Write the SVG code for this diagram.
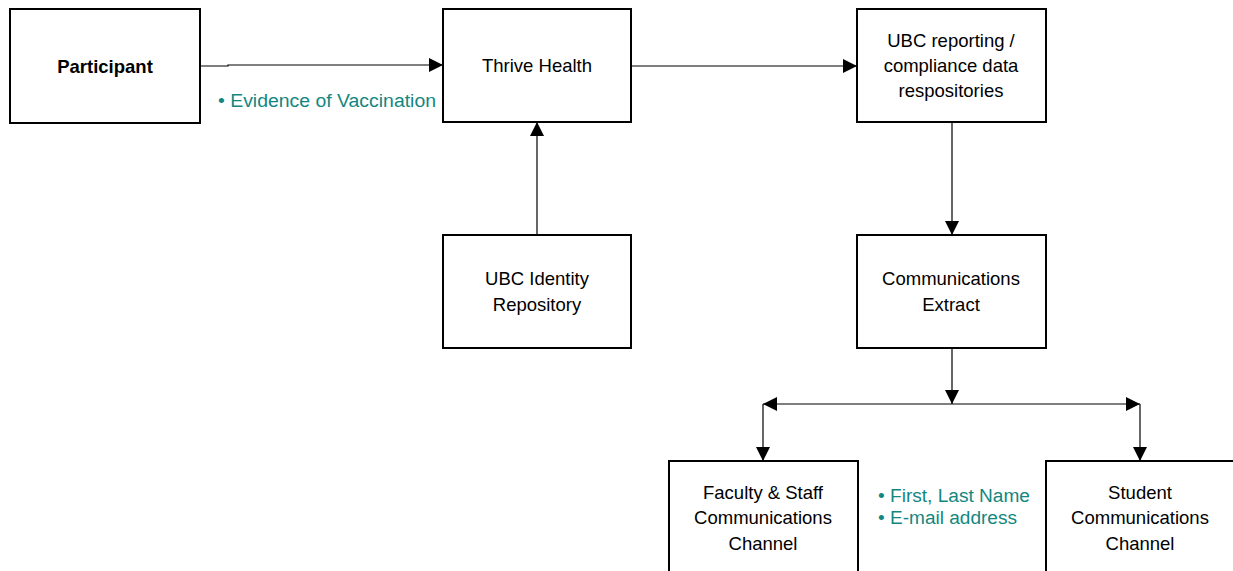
<svg xmlns="http://www.w3.org/2000/svg" width="1233" height="571" viewBox="0 0 1233 571">
<style>
.box{fill:#fff;stroke:#000;stroke-width:2}
.t{font-family:"Liberation Sans",Arial,sans-serif;font-size:18.5px;fill:#000;text-anchor:middle}
.b{font-weight:bold}
.g{font-family:"Liberation Sans",Arial,sans-serif;font-size:18px;fill:#13877f}
.c{stroke:#000;stroke-width:1.2;fill:none}
</style>
<defs>
<marker id="ah" viewBox="0 0 10 10" refX="10" refY="5" markerWidth="14" markerHeight="14" markerUnits="userSpaceOnUse" orient="auto-start-reverse">
<path d="M0,0 L10,5 L0,10 z" fill="#000"/>
</marker>
</defs>
<rect width="1233" height="571" fill="#fff"/>
<g id="connectors">
<path class="c" d="M200,66 H228 V65 H443" marker-end="url(#ah)"/>
<path class="c" d="M631,66 H857" marker-end="url(#ah)"/>
<path class="c" d="M537,235 V122" marker-end="url(#ah)"/>
<path class="c" d="M952,122 V235" marker-end="url(#ah)"/>
<path class="c" d="M952,348 V404" marker-end="url(#ah)"/>
<path class="c" d="M763,404 H1140" marker-start="url(#ah)" marker-end="url(#ah)"/>
<path class="c" d="M763,404 V461" marker-end="url(#ah)"/>
<path class="c" d="M1140,404 V461" marker-end="url(#ah)"/>
</g>
<g id="participant">
<rect class="box" x="10" y="9" width="190" height="114"/>
<text class="t b" x="105" y="73">Participant</text>
</g>
<g id="thrive">
<rect class="box" x="443" y="9" width="188" height="113"/>
<text class="t" x="537" y="72">Thrive Health</text>
</g>
<g id="reporting">
<rect class="box" x="857" y="9" width="189" height="113"/>
<text class="t" x="951" y="47">UBC reporting /</text>
<text class="t" x="951" y="72">compliance data</text>
<text class="t" x="951" y="97">respositories</text>
</g>
<g id="identity">
<rect class="box" x="443" y="235" width="188" height="113"/>
<text class="t" x="537" y="285">UBC Identity</text>
<text class="t" x="537" y="311">Repository</text>
</g>
<g id="extract">
<rect class="box" x="857" y="235" width="189" height="113"/>
<text class="t" x="951" y="285">Communications</text>
<text class="t" x="951" y="311">Extract</text>
</g>
<g id="faculty">
<rect class="box" x="669" y="461" width="189" height="120"/>
<text class="t" x="763" y="499">Faculty &amp; Staff</text>
<text class="t" x="763" y="524">Communications</text>
<text class="t" x="763" y="550">Channel</text>
</g>
<g id="student">
<rect class="box" x="1046" y="461" width="200" height="120"/>
<text class="t" x="1140" y="499">Student</text>
<text class="t" x="1140" y="524">Communications</text>
<text class="t" x="1140" y="550">Channel</text>
</g>
<g id="labels">
<text class="g" x="218" y="107" textLength="218" lengthAdjust="spacingAndGlyphs">• Evidence of Vaccination</text>
<text class="g" x="878" y="502" textLength="152" lengthAdjust="spacingAndGlyphs">• First, Last Name</text>
<text class="g" x="878" y="524" textLength="139" lengthAdjust="spacingAndGlyphs">• E-mail address</text>
</g>
</svg>
